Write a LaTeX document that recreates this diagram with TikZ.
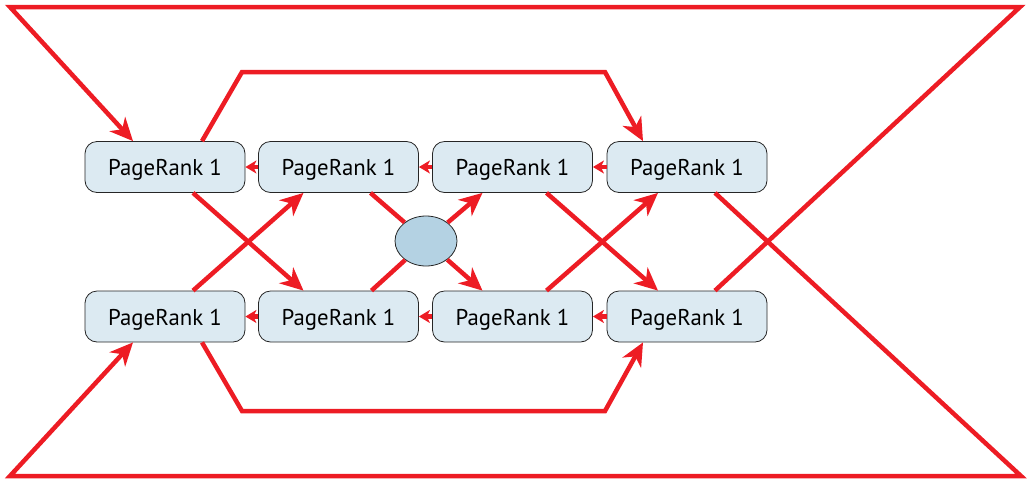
\documentclass[tikz,border=0pt]{standalone}
\usepackage{fontspec}
\setmainfont{PT Sans}
\usetikzlibrary{arrows.meta,calc,shapes.geometric}
\definecolor{pr}{HTML}{ED1C24}
\definecolor{boxfill}{HTML}{DCEAF2}
\definecolor{hubfill}{HTML}{B4D2E3}
\begin{document}
\begin{tikzpicture}[x=1pt,y=-1pt,
  prbox/.style={draw=black!85, line width=0.8pt, fill=boxfill, rounded corners=12pt,
    minimum width=160pt, minimum height=51pt, inner sep=0pt,
    text height=17pt, text depth=0pt,
    font=\fontsize{22.8}{26}\selectfont},
  hub/.style={ellipse, draw=black!85, line width=0.8pt, fill=hubfill,
    minimum width=62pt, minimum height=50pt, inner sep=0pt},
  link/.style={draw=pr, line width=4.5pt},
  arr/.style={link, -{Stealth[length=23pt,width=21pt,inset=7pt]}},
  sarr/.style={link, -{Stealth[length=11pt,width=13pt,inset=3pt]}}]
\useasboundingbox (0,0) rectangle (1028,483);
% nodes
\node[prbox] (t1) at (165,167) {PageRank 1};
\node[prbox] (t2) at (338.5,167) {PageRank 1};
\node[prbox] (t3) at (512.5,167) {PageRank 1};
\node[prbox] (t4) at (687,167) {PageRank 1};
\node[prbox] (b1) at (165,316.5) {PageRank 1};
\node[prbox] (b2) at (338.5,316.5) {PageRank 1};
\node[prbox] (b3) at (512.5,316.5) {PageRank 1};
\node[prbox] (b4) at (687,316.5) {PageRank 1};
\node[hub] (h) at (426,241) {};
% corner coordinates
\coordinate (TL) at (10,7);
\coordinate (TR) at (1020,7);
\coordinate (BR) at (1021,476);
\coordinate (BL) at (10,476);
\coordinate (ITL) at (242,72);
\coordinate (ITR) at (605,72);
\coordinate (IBL) at (242,411);
\coordinate (IBR) at (605,411);
% short horizontal links
\draw[sarr] (t2.west) -- (t1.east);
\draw[sarr] (t3.west) -- (t2.east);
\draw[sarr] (t4.west) -- (t3.east);
\draw[sarr] (b2.west) -- (b1.east);
\draw[sarr] (b3.west) -- (b2.east);
\draw[sarr] (b4.west) -- (b3.east);
% diagonals
\draw[arr] ($(t1.south)+(28,0)$) -- ($(b2.north)+(-35,0)$);
\draw[arr] ($(b1.north)+(28,0)$) -- ($(t2.south)+(-35,0)$);
\draw[link] ($(t2.south)+(32,0)$) -- (h);
\draw[link] ($(b2.north)+(33,0)$) -- (h);
\draw[arr] (h) -- ($(t3.south)+(-30,0)$);
\draw[arr] (h) -- ($(b3.north)+(-30,0)$);
\draw[arr] ($(t3.south)+(34,0)$) -- ($(b4.north)+(-29,0)$);
\draw[arr] ($(b3.north)+(34,0)$) -- ($(t4.south)+(-29,0)$);
% outer loops
\draw[arr] ($(b4.north)+(28,0)$) -- (TR) -- (TL) -- ($(t1.north)+(-32,0)$);
\draw[arr] ($(t4.south)+(28,0)$) -- (BR) -- (BL) -- ($(b1.south)+(-32,0)$);
% inner loops
\draw[arr] ($(t1.north)+(37,0)$) -- (ITL) -- (ITR) -- ($(t4.north)+(-44,0)$);
\draw[arr] ($(b1.south)+(37,0)$) -- (IBL) -- (IBR) -- ($(b4.south)+(-44,0)$);
\end{tikzpicture}
\end{document}
